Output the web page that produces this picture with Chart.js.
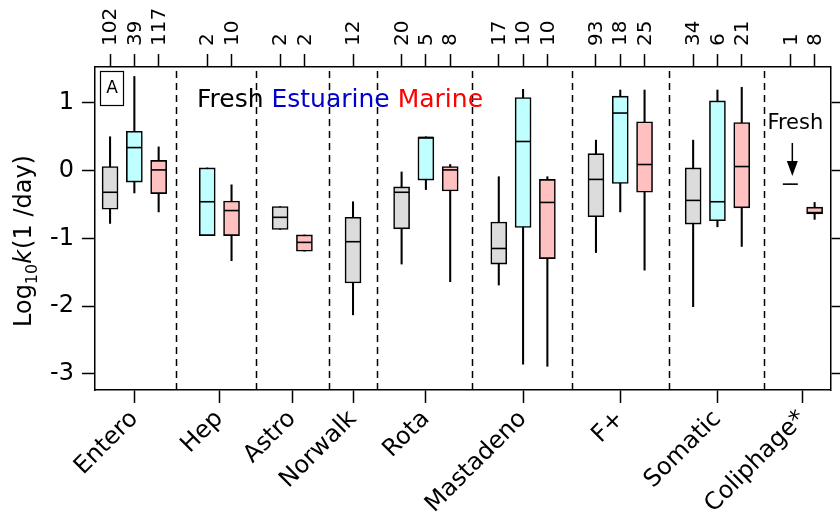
<!DOCTYPE html>
<html>
<head>
<meta charset="utf-8">
<script src="https://cdn.jsdelivr.net/npm/chart.js@4"></script>
<style>
  body { margin: 0; background: #fff; }
</style>
</head>
<body>
<canvas id="decayChart" width="840" height="520"></canvas>
<script>
// groups on the x axis, given as slot numbers (one slot per box)
var categories = ["Entero", "Hep", "Astro", "Norwalk", "Rota", "Mastadeno", "F+", "Somatic", "Coliphage*"];
var categorySlots = [1, 4.5, 7.5, 10, 13, 17, 21, 25, 28.5];
var dividerSlots = [2.7, 6, 9, 11, 14.9, 19, 23, 26.9];
var yTicks = [-3, -2, -1, 0, 1];

// Fresh (grey)
var freshSlot = [0, 7, 10, 12, 16, 20, 24, 28];
var freshN    = [102, 2, 12, 20, 17, 93, 34, 1];
var freshLo   = [-0.78, -0.87, -2.13, -1.38, -1.69, -1.21, -2.01, -0.20];
var freshQ1   = [-0.57, -0.87, -1.66, -0.86, -1.38, -0.68, -0.79, -0.20];
var freshMed  = [-0.32, -0.69, -1.05, -0.32, -1.15, -0.13, -0.44, -0.20];
var freshQ3   = [0.06, -0.53, -0.69, -0.24, -0.76, 0.25, 0.04, -0.20];
var freshHi   = [0.50, -0.53, -0.46, -0.02, -0.09, 0.45, 0.45, -0.20];

// Estuarine (cyan)
var estSlot = [1, 4, 13, 17, 21, 25];
var estN    = [39, 2, 5, 10, 18, 6];
var estLo   = [-0.33, -0.96, -0.28, -2.86, -0.61, -0.83];
var estQ1   = [-0.17, -0.96, -0.14, -0.84, -0.19, -0.74];
var estMed  = [0.34, -0.46, 0.49, 0.43, 0.85, -0.46];
var estQ3   = [0.58, 0.04, 0.49, 1.08, 1.10, 1.03];
var estHi   = [1.39, 0.04, 0.50, 1.20, 1.19, 1.19];

// Marine (pink)
var marSlot = [2, 5, 8, 14, 18, 22, 26, 29];
var marN    = [117, 10, 2, 8, 10, 25, 21, 8];
var marLo   = [-0.61, -1.33, -1.19, -1.64, -2.89, -1.47, -1.12, -0.72];
var marQ1   = [-0.34, -0.96, -1.19, -0.30, -1.30, -0.32, -0.55, -0.64];
var marMed  = [0.01, -0.59, -1.06, 0.01, -0.47, 0.09, 0.06, -0.62];
var marQ3   = [0.15, -0.45, -0.95, 0.06, -0.13, 0.72, 0.71, -0.54];
var marHi   = [0.35, -0.21, -0.95, 0.09, -0.09, 1.19, 1.23, -0.47];

var FONT = "'DejaVu Sans', sans-serif";

// sample counts along the top axis
var topPairs = [];
[[freshSlot, freshN], [estSlot, estN], [marSlot, marN]].forEach(function (p) {
  p[0].forEach(function (s, i) { topPairs.push([s, p[1][i]]); });
});
topPairs.sort(function (a, b) { return a[0] - b[0]; });
var topSlots = topPairs.map(function (p) { return p[0]; });
var topCounts = topPairs.map(function (p) { return p[1]; });

function boxSets(name, slot, lo, q1, med, q3, hi, fill) {
  return [
    {
      type: "bar", label: name + " whiskers",
      data: slot.map(function (s, i) { return {x: s, y: [lo[i], hi[i]]}; }),
      backgroundColor: "#000", barThickness: 1.4, grouped: false, order: 3
    },
    {
      type: "bar", label: name,
      data: slot.map(function (s, i) { return {x: s, y: [q1[i], q3[i]]}; }),
      backgroundColor: fill, borderColor: "#000", borderWidth: 1.6,
      borderSkipped: false, barThickness: 16, grouped: false, order: 2
    },
    {
      type: "scatter", label: name + " median",
      data: slot.map(function (s, i) { return {x: s, y: med[i]}; }),
      pointStyle: "line", pointRadius: 7.5, pointHoverRadius: 7.5,
      pointBorderColor: "#000", pointBorderWidth: 1.6, order: 1
    }
  ];
}

var datasets = []
  .concat(boxSets("Fresh", freshSlot, freshLo, freshQ1, freshMed, freshQ3, freshHi, "#dcdcdc"))
  .concat(boxSets("Estuarine", estSlot, estLo, estQ1, estMed, estQ3, estHi, "#c0ffff"))
  .concat(boxSets("Marine", marSlot, marLo, marQ1, marMed, marQ3, marHi, "#ffc0c0"));

var extras = {
  id: "extras",
  beforeDatasetsDraw: function (chart) {
    var ctx = chart.ctx, xs = chart.scales.x, a = chart.chartArea;
    ctx.save();
    ctx.strokeStyle = "#000";
    ctx.lineWidth = 1.5;
    ctx.setLineDash([7, 5]);
    dividerSlots.forEach(function (s) {
      var px = Math.round(xs.getPixelForValue(s)) + 0.5;
      ctx.beginPath();
      ctx.moveTo(px, a.top + 4);
      ctx.lineTo(px, a.bottom);
      ctx.stroke();
    });
    ctx.restore();
  },
  afterDraw: function (chart) {
    var ctx = chart.ctx, xs = chart.scales.x, a = chart.chartArea;
    ctx.save();
    ctx.fillStyle = "#000";

    // panel letter
    ctx.lineWidth = 1.2;
    ctx.strokeRect(a.left + 5.5, a.top + 4.5, 23, 34);
    ctx.font = "17px " + FONT;
    ctx.textAlign = "center";
    ctx.textBaseline = "middle";
    ctx.fillText("A", a.left + 17, a.top + 22);

    // colour key written as words
    ctx.font = "25px " + FONT;
    ctx.textAlign = "left";
    ctx.textBaseline = "alphabetic";
    var x = 197;
    [["Fresh ", "#000"], ["Estuarine ", "#0000cc"], ["Marine", "#ff0000"]].forEach(function (w) {
      ctx.fillStyle = w[1];
      ctx.fillText(w[0], x, 107);
      x += ctx.measureText(w[0]).width;
    });

    // "Fresh" arrow for the single coliphage value
    ctx.fillStyle = "#000";
    var ax = xs.getPixelForValue(28) + 2;
    ctx.font = "21px " + FONT;
    ctx.textAlign = "center";
    ctx.fillText("Fresh", ax + 3, 129);
    ctx.lineWidth = 1.5;
    ctx.beginPath();
    ctx.moveTo(ax, 143);
    ctx.lineTo(ax, 163);
    ctx.stroke();
    ctx.beginPath();
    ctx.moveTo(ax - 5.5, 161);
    ctx.lineTo(ax + 5.5, 161);
    ctx.lineTo(ax, 176);
    ctx.closePath();
    ctx.fill();

    // y axis title with subscript and italic k
    ctx.translate(31, 327);
    ctx.rotate(-Math.PI / 2);
    ctx.textAlign = "left";
    var tx = 0;
    ctx.font = "24px " + FONT;
    ctx.fillText("Log", tx, 0);
    tx += ctx.measureText("Log").width;
    ctx.font = "16px " + FONT;
    ctx.fillText("10", tx, 6);
    tx += ctx.measureText("10").width;
    ctx.font = "italic 24px " + FONT;
    ctx.fillText("k", tx, 0);
    tx += ctx.measureText("k").width + 1;
    ctx.font = "24px " + FONT;
    ctx.fillText("(1 /day)", tx, 0);
    ctx.restore();
  }
};

var tickGrid = {drawOnChartArea: false, drawTicks: true, tickLength: 13, tickColor: "#000", tickWidth: 1.5, offset: false};
var axisBorder = {color: "#000", width: 1.5};

new Chart("decayChart", {
  type: "bar",
  data: {datasets: datasets},
  options: {
    responsive: false,
    animation: false,
    events: [],
    layout: {padding: 0},
    plugins: {legend: {display: false}, tooltip: {enabled: false}},
    scales: {
      x: {
        type: "linear", position: "bottom", min: -0.62, max: 29.67, offset: false,
        grid: tickGrid, border: axisBorder,
        ticks: {
          autoSkip: false, minRotation: 45, maxRotation: 45, padding: 2, color: "#000",
          font: {family: FONT, size: 24},
          callback: function (v, i) { return categories[i]; }
        },
        afterBuildTicks: function (s) { s.ticks = categorySlots.map(function (v) { return {value: v}; }); },
        afterFit: function (s) { s.height = 130; }
      },
      xTop: {
        type: "linear", position: "top", min: -0.62, max: 29.67, offset: false,
        grid: tickGrid, border: axisBorder,
        ticks: {
          autoSkip: false, minRotation: 90, maxRotation: 90, padding: 8, labelOffset: 25, color: "#000",
          font: {family: FONT, size: 20},
          callback: function (v, i) { return String(topCounts[i]); }
        },
        afterBuildTicks: function (s) { s.ticks = topSlots.map(function (v) { return {value: v}; }); },
        afterFit: function (s) { s.height = 67; }
      },
      y: {
        type: "linear", position: "left", min: -3.24, max: 1.53,
        grid: tickGrid, border: axisBorder,
        ticks: {
          padding: 8, color: "#000", font: {family: FONT, size: 24},
          callback: function (v) { return String(v); }
        },
        afterBuildTicks: function (s) { s.ticks = yTicks.map(function (v) { return {value: v}; }); },
        afterFit: function (s) { s.width = 95; }
      },
      y2: {
        type: "linear", position: "right", min: -3.24, max: 1.53,
        grid: tickGrid, border: axisBorder,
        ticks: {display: false},
        afterBuildTicks: function (s) { s.ticks = yTicks.map(function (v) { return {value: v}; }); },
        afterFit: function (s) { s.width = 7; }
      }
    }
  },
  plugins: [extras]
});
</script>
</body>
</html>
